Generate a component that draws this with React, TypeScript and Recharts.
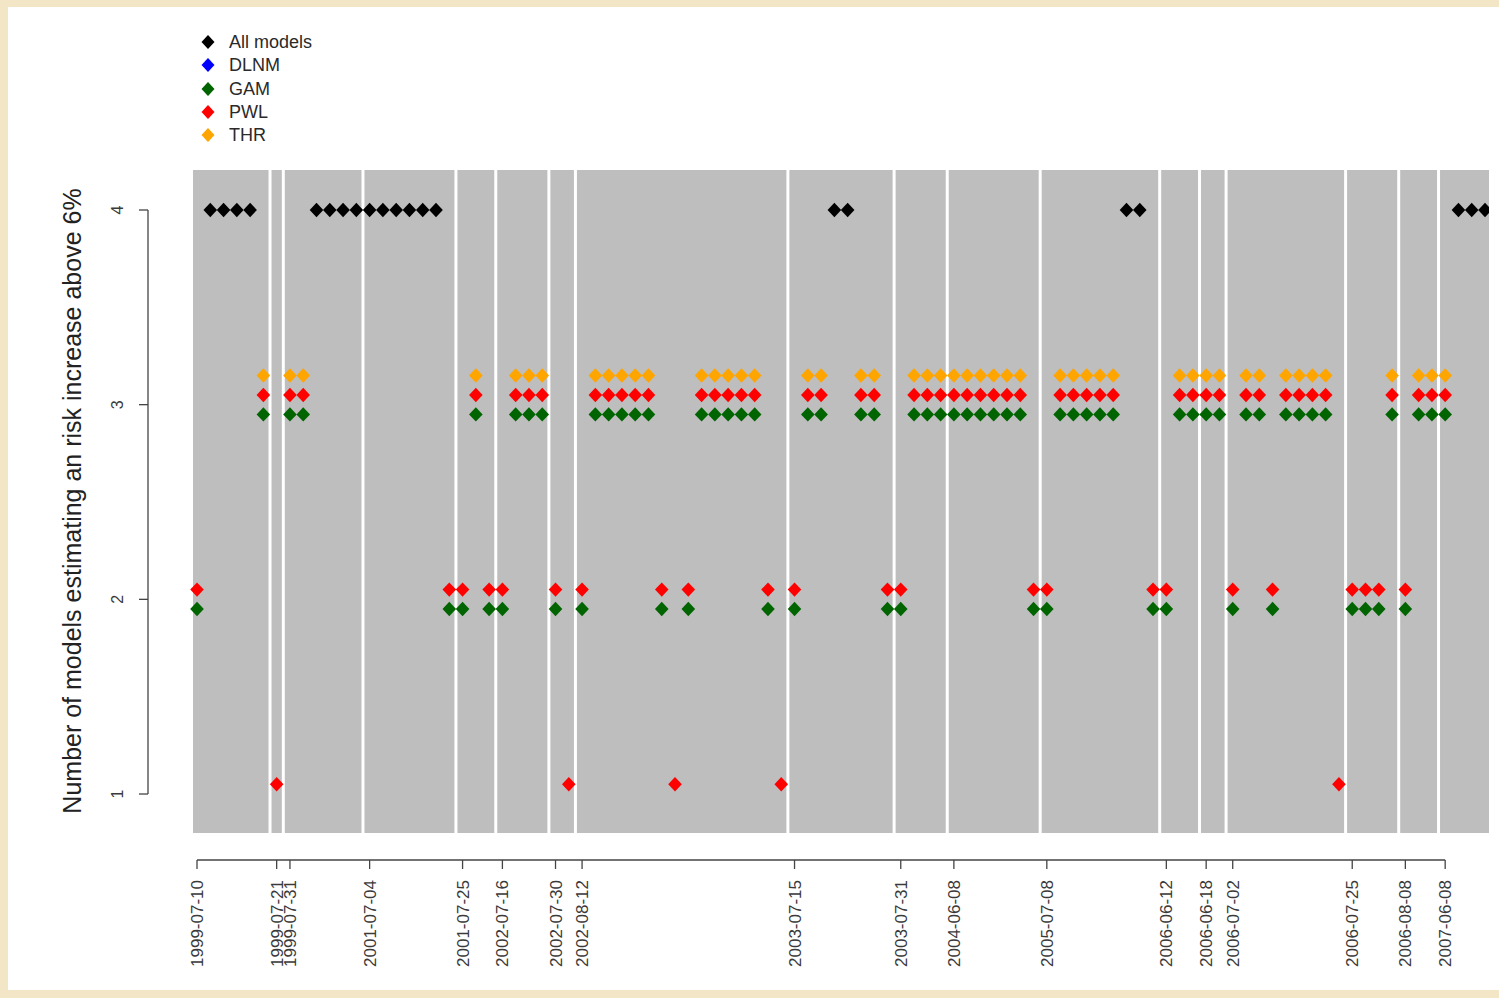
import React from 'react';
import { ScatterChart, Scatter, XAxis, YAxis, ReferenceArea, ReferenceLine } from 'recharts';

// Number of models (out of 4) estimating a risk increase above 6%, per heat-wave day (ordered index)
const counts = [
  2, 4, 4, 4, 4, 3, 1, 3, 3, 4, 4, 4, 4, 4, 4, 4, 4, 4, 4, 2, 2, 3, 2, 2, 3, 3, 3, 2, 1, 2,
  3, 3, 3, 3, 3, 2, 1, 2, 3, 3, 3, 3, 3, 2, 1, 2, 3, 3, 4, 4, 3, 3, 2, 2, 3, 3, 3, 3, 3, 3,
  3, 3, 3, 2, 2, 3, 3, 3, 3, 3, 4, 4, 2, 2, 3, 3, 3, 3, 2, 3, 3, 2, 3, 3, 3, 3, 1, 2, 2, 2,
  3, 2, 3, 3, 3, 4, 4, 4,
];

const tickIndex = [0, 6, 7, 13, 20, 23, 27, 29, 45, 53, 57, 64, 73, 76, 78, 87, 91, 94];
const tickLabels = [
  '1999-07-10', '1999-07-21', '1999-07-31', '2001-07-04', '2001-07-25', '2002-07-16',
  '2002-07-30', '2002-08-12', '2003-07-15', '2003-07-31', '2004-06-08', '2005-07-08',
  '2006-06-12', '2006-06-18', '2006-07-02', '2006-07-25', '2006-08-08', '2007-06-08',
];
const periodBreaks = [5.5, 6.5, 12.5, 19.5, 22.5, 26.5, 28.5, 44.5, 52.5, 56.5, 63.5, 72.5, 75.5, 77.5, 86.5, 90.5, 93.5];
const yTicks = [1, 2, 3, 4];

const modelNames = ['All models', 'DLNM', 'GAM', 'PWL', 'THR'];
const modelColors = ['#000000', '#0000ff', '#006400', '#ff0000', '#ffa500'];

const allData = counts.map((c, i) => ({ x: i, c })).filter((d) => d.c === 4).map((d) => ({ x: d.x, y: 4 }));
const dlnmData: { x: number; y: number }[] = [];
const gamData = counts.map((c, i) => ({ x: i, c })).filter((d) => d.c === 2 || d.c === 3).map((d) => ({ x: d.x, y: d.c - 0.05 }));
const pwlData = counts.map((c, i) => ({ x: i, c })).filter((d) => d.c >= 1 && d.c <= 3).map((d) => ({ x: d.x, y: d.c + 0.05 }));
const thrData = counts.map((c, i) => ({ x: i, c })).filter((d) => d.c === 3).map((d) => ({ x: d.x, y: d.c + 0.15 }));

const X_DOMAIN: [number, number] = [-3.69, 97.3];
const Y_DOMAIN: [number, number] = [0.661, 4.2055];
const FONT = '"Liberation Sans", Arial, sans-serif';

const diamond = (color: string) => (props: any) => {
  const { cx, cy } = props;
  if (cx == null || cy == null) return <g />;
  const w = 6.8;
  const h = 7.2;
  return (
    <polygon
      points={`${cx},${cy - h} ${cx + w},${cy} ${cx},${cy + h} ${cx - w},${cy}`}
      fill={color}
    />
  );
};

const XTick = (props: any) => {
  const { x, y, payload } = props;
  const idx = tickIndex.indexOf(payload.value);
  const label = idx >= 0 ? tickLabels[idx] : '';
  const bx = x + 6;
  return (
    <text
      x={bx}
      y={y}
      transform={`rotate(-90, ${bx}, ${y})`}
      textAnchor="end"
      fontSize={17}
      fontFamily={FONT}
      fill="#3a3a3a"
    >
      {label}
    </text>
  );
};

const YTick = (props: any) => {
  const { x, y, payload } = props;
  return (
    <text
      x={x}
      y={y}
      transform={`rotate(-90, ${x}, ${y})`}
      textAnchor="middle"
      fontSize={16}
      fontFamily={FONT}
      fill="#3a3a3a"
    >
      {payload.value}
    </text>
  );
};

const YLabel = () => (
  <text
    x={81}
    y={501}
    transform="rotate(-90, 81, 501)"
    textAnchor="middle"
    fontSize={25}
    fontFamily={FONT}
    fill="#222"
  >
    Number of models estimating an risk increase above 6%
  </text>
);

const LegendBox = () => (
  <div style={{ position: 'absolute', left: 196, top: 30, width: 200 }}>
    {modelNames.map((name, i) => (
      <div key={name} style={{ position: 'absolute', left: 0, top: i * 23.25, height: 24, display: 'flex', alignItems: 'center' }}>
        <svg width={24} height={24} style={{ display: 'block' }}>
          <polygon points="12,5 18.5,12 12,19 5.5,12" fill={modelColors[i]} />
        </svg>
        <span style={{ marginLeft: 9, fontSize: 18, fontFamily: FONT, color: '#2a2a2a', lineHeight: '24px', whiteSpace: 'nowrap' }}>{name}</span>
      </div>
    ))}
  </div>
);

export default function App() {
  const series = [allData, dlnmData, gamData, pwlData, thrData];
  return (
    <div style={{ position: 'fixed', left: 0, top: 0, width: 1499, height: 998, background: '#f2e6c6', overflow: 'hidden' }}>
      <div style={{ position: 'absolute', left: 8, top: 7, width: 1520, height: 983, background: '#ffffff' }} />
      <div style={{ position: 'absolute', left: 0, top: 0 }}>
        <ScatterChart width={1499} height={998} margin={{ top: 170, right: 10, bottom: 18, left: 48 }}>
          <XAxis
            type="number"
            dataKey="x"
            domain={X_DOMAIN}
            allowDataOverflow
            ticks={tickIndex}
            interval={0}
            height={120}
            axisLine={false}
            tickLine={{ stroke: '#444', strokeWidth: 1.3 }}
            tickSize={9}
            tickMargin={11}
            tick={<XTick />}
          />
          <YAxis
            type="number"
            dataKey="y"
            domain={Y_DOMAIN}
            allowDataOverflow
            ticks={yTicks}
            width={100}
            axisLine={false}
            tickLine={{ stroke: '#444', strokeWidth: 1.3 }}
            tickSize={9}
            tickMargin={16}
            tick={<YTick />}
            label={<YLabel />}
          />
          <ReferenceArea x1={-0.3} x2={97.3} y1={0.8} y2={Y_DOMAIN[1]} fill="#bebebe" fillOpacity={1} stroke="none" ifOverflow="visible" />
          {periodBreaks.map((b) => (
            <ReferenceLine
              key={b}
              segment={[{ x: b, y: 0.8 }, { x: b, y: Y_DOMAIN[1] }]}
              stroke="#ffffff"
              strokeWidth={3}
              ifOverflow="visible"
            />
          ))}
          <ReferenceLine
            segment={[{ x: tickIndex[0], y: Y_DOMAIN[0] }, { x: tickIndex[tickIndex.length - 1], y: Y_DOMAIN[0] }]}
            stroke="#444"
            strokeWidth={1.3}
            ifOverflow="visible"
          />
          <ReferenceLine
            segment={[{ x: X_DOMAIN[0], y: 1 }, { x: X_DOMAIN[0], y: 4 }]}
            stroke="#444"
            strokeWidth={1.3}
            ifOverflow="visible"
          />
          {series.map((d, i) => (
            <Scatter
              key={modelNames[i]}
              name={modelNames[i]}
              data={d}
              fill={modelColors[i]}
              shape={diamond(modelColors[i])}
              isAnimationActive={false}
            />
          ))}
        </ScatterChart>
      </div>
      <LegendBox />
    </div>
  );
}
